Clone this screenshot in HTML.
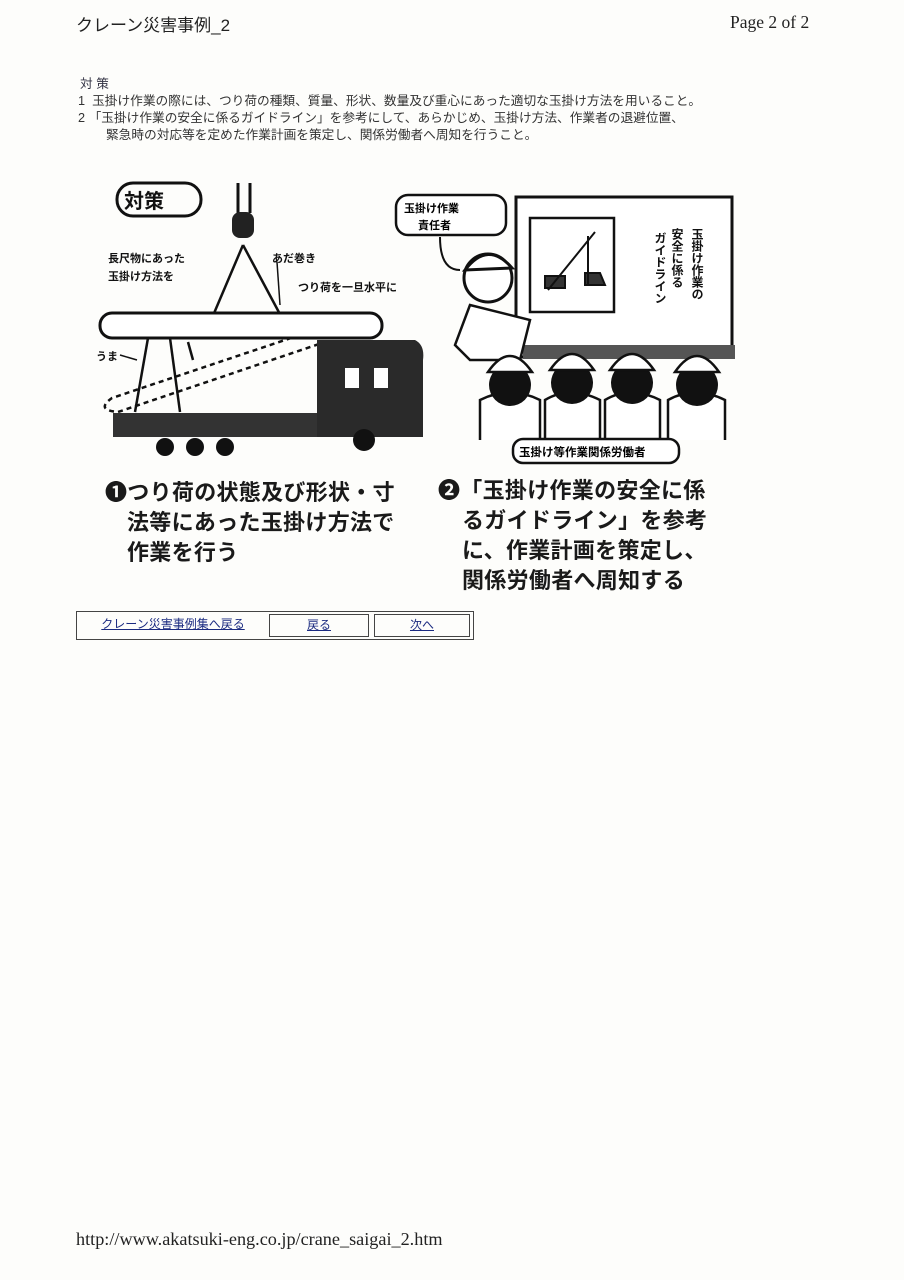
<!DOCTYPE html>
<html><head><meta charset="utf-8">
<style>
body{margin:0;background:#fdfdfb;}
.p{position:relative;width:904px;height:1280px;overflow:hidden;font-family:"Liberation Sans","Noto Sans CJK JP",sans-serif;color:#222;}
.a{position:absolute;white-space:nowrap;}
.s{font-size:12.7px;line-height:17px;color:#333;}
.cap{font-size:22px;font-weight:bold;line-height:30px;color:#1a1a1a;letter-spacing:0.3px;}
.nav{position:absolute;left:76px;top:611px;width:396px;height:27px;border:1px solid #444;}
.nav div{position:absolute;top:2px;height:21px;font-size:12px;text-align:center;line-height:21px;color:#1a2a80;text-decoration:underline;}
</style></head><body><div class="p">
<div class="a" style="left:76px;top:11px;font-size:17px;color:#222;">クレーン災害事例_2</div>
<div class="a" style="left:730px;top:12px;font-size:17.5px;font-family:'Liberation Serif',serif;">Page 2 of 2</div>
<div class="a s" style="left:80px;top:76px;color:#334;">対 策</div>
<div class="a s" style="left:78px;top:93px;">1&nbsp;&nbsp;玉掛け作業の際には、つり荷の種類、質量、形状、数量及び重心にあった適切な玉掛け方法を用いること。</div>
<div class="a s" style="left:78px;top:110px;">2 「玉掛け作業の安全に係るガイドライン」を参考にして、あらかじめ、玉掛け方法、作業者の退避位置、</div>
<div class="a s" style="left:106px;top:127px;">緊急時の対応等を定めた作業計画を策定し、関係労働者へ周知を行うこと。</div>

<svg class="a" style="left:0;top:0" width="904" height="700" viewBox="0 0 904 700">
<g fill="none" stroke="#111" stroke-width="3">
<rect x="117" y="183" width="84" height="33" rx="16"/>
<line x1="238" y1="183" x2="238" y2="213"/><line x1="250" y1="183" x2="250" y2="213"/>
</g>
<rect x="232" y="212" width="22" height="26" rx="8" fill="#222"/>
<g stroke="#111" stroke-width="2.5" fill="none">
<line x1="243" y1="245" x2="212" y2="318"/><line x1="243" y1="245" x2="282" y2="318"/>
<line x1="148" y1="338" x2="135" y2="412"/><line x1="170" y1="338" x2="180" y2="412"/>
<path d="M300 335 L112 398 Q95 410 118 412 L325 342" stroke-dasharray="5,4"/>
<line x1="193" y1="360" x2="188" y2="342"/>
<line x1="277" y1="262" x2="280" y2="305" stroke-width="1.5"/>
<line x1="120" y1="355" x2="137" y2="360" stroke-width="1.5"/>
</g>
<rect x="100" y="313" width="282" height="25" rx="12" fill="#fff" stroke="#111" stroke-width="3"/>
<rect x="113" y="413" width="212" height="24" fill="#333"/>
<path d="M317 340 H415 Q425 345 423 360 V437 H317 Z" fill="#2a2a2a"/>
<rect x="345" y="368" width="14" height="20" fill="#fff"/><rect x="374" y="368" width="14" height="20" fill="#fff"/>
<g fill="#111"><circle cx="165" cy="447" r="9"/><circle cx="195" cy="447" r="9"/><circle cx="225" cy="447" r="9"/><circle cx="364" cy="440" r="11"/></g>
<g font-family="Liberation Sans,Noto Sans CJK JP,sans-serif" font-weight="bold" font-size="11" fill="#111">
<text x="108" y="262">長尺物にあった</text><text x="108" y="280">玉掛け方法を</text>
<text x="272" y="262">あだ巻き</text><text x="298" y="291">つり荷を一旦水平に</text>
<text x="96" y="360">うま</text>
<text x="124" y="208" font-size="20">対策</text>
</g>
<rect x="516" y="197" width="216" height="160" fill="#fff" stroke="#111" stroke-width="3"/>
<rect x="530" y="218" width="84" height="94" fill="none" stroke="#111" stroke-width="2.5"/>
<path d="M548 290 L595 232 M588 236 V285 M545 288 h20 v-12 h-20z M585 285 h20 l-5 -12 h-15z" stroke="#111" stroke-width="2" fill="#333"/>
<rect x="523" y="345" width="212" height="14" fill="#555"/>
<g font-family="Liberation Sans,Noto Sans CJK JP,sans-serif" font-weight="bold" font-size="12" fill="#111">
<text x="697" y="228" style="writing-mode:vertical-rl">玉掛け作業の</text>
<text x="677" y="228" style="writing-mode:vertical-rl">安全に係る</text>
<text x="660" y="232" style="writing-mode:vertical-rl">ガイドライン</text>
</g>
<rect x="396" y="195" width="110" height="40" rx="12" fill="#fff" stroke="#111" stroke-width="2.5"/>
<text x="404" y="212" font-size="11" font-weight="bold" font-family="Liberation Sans,Noto Sans CJK JP,sans-serif">玉掛け作業</text>
<text x="418" y="229" font-size="11" font-weight="bold" font-family="Liberation Sans,Noto Sans CJK JP,sans-serif">責任者</text>
<path d="M440 237 Q440 270 460 270" stroke="#111" stroke-width="2" fill="none"/>
<circle cx="488" cy="278" r="24" fill="#fff" stroke="#111" stroke-width="3"/>
<path d="M465 270 Q488 240 512 268 Z" fill="#fff" stroke="#111" stroke-width="3"/>
<path d="M470 305 L455 345 L470 360 L520 360 L530 320 Z" fill="#fff" stroke="#111" stroke-width="2.5"/>
<g stroke="#111" stroke-width="2.5" fill="#fff">
<path d="M480 440 V400 Q510 385 540 400 V440"/><path d="M545 440 V400 Q570 385 600 400 V440"/>
<path d="M605 440 V400 Q630 385 660 400 V440"/><path d="M668 440 V400 Q695 385 725 400 V440"/>
</g>
<g fill="#111">
<circle cx="510" cy="385" r="21"/><circle cx="572" cy="383" r="21"/><circle cx="632" cy="383" r="21"/><circle cx="697" cy="385" r="21"/>
</g>
<g fill="#fff" stroke="#111" stroke-width="2.5">
<path d="M488 372 Q510 340 532 372 Z"/><path d="M550 370 Q572 338 594 370 Z"/><path d="M610 370 Q632 338 654 370 Z"/><path d="M675 372 Q697 340 719 372 Z"/>
</g>
<rect x="513" y="439" width="166" height="24" rx="10" fill="#fff" stroke="#111" stroke-width="2.5"/>
<text x="519" y="456" font-size="11.5" font-weight="bold" font-family="Liberation Sans,Noto Sans CJK JP,sans-serif">玉掛け等作業関係労働者</text>
</svg>

<div class="a cap" style="left:105px;top:478px;">❶つり荷の状態及び形状・寸</div>
<div class="a cap" style="left:127px;top:508px;">法等にあった玉掛け方法で</div>
<div class="a cap" style="left:127px;top:538px;">作業を行う</div>
<div class="a cap" style="left:438px;top:476px;">❷「玉掛け作業の安全に係</div>
<div class="a cap" style="left:462px;top:506px;">るガイドライン」を参考</div>
<div class="a cap" style="left:462px;top:536px;">に、作業計画を策定し、</div>
<div class="a cap" style="left:462px;top:566px;">関係労働者へ周知する</div>

<div class="nav">
<div style="left:2px;width:188px;">クレーン災害事例集へ戻る</div>
<div style="left:192px;width:98px;border:1px solid #444;">戻る</div>
<div style="left:297px;width:94px;border:1px solid #444;">次へ</div>
</div>

<div class="a" style="left:76px;top:1229px;font-size:18.2px;font-family:'Liberation Serif',serif;">http://www.akatsuki-eng.co.jp/crane_saigai_2.htm</div>
</div></body></html>
